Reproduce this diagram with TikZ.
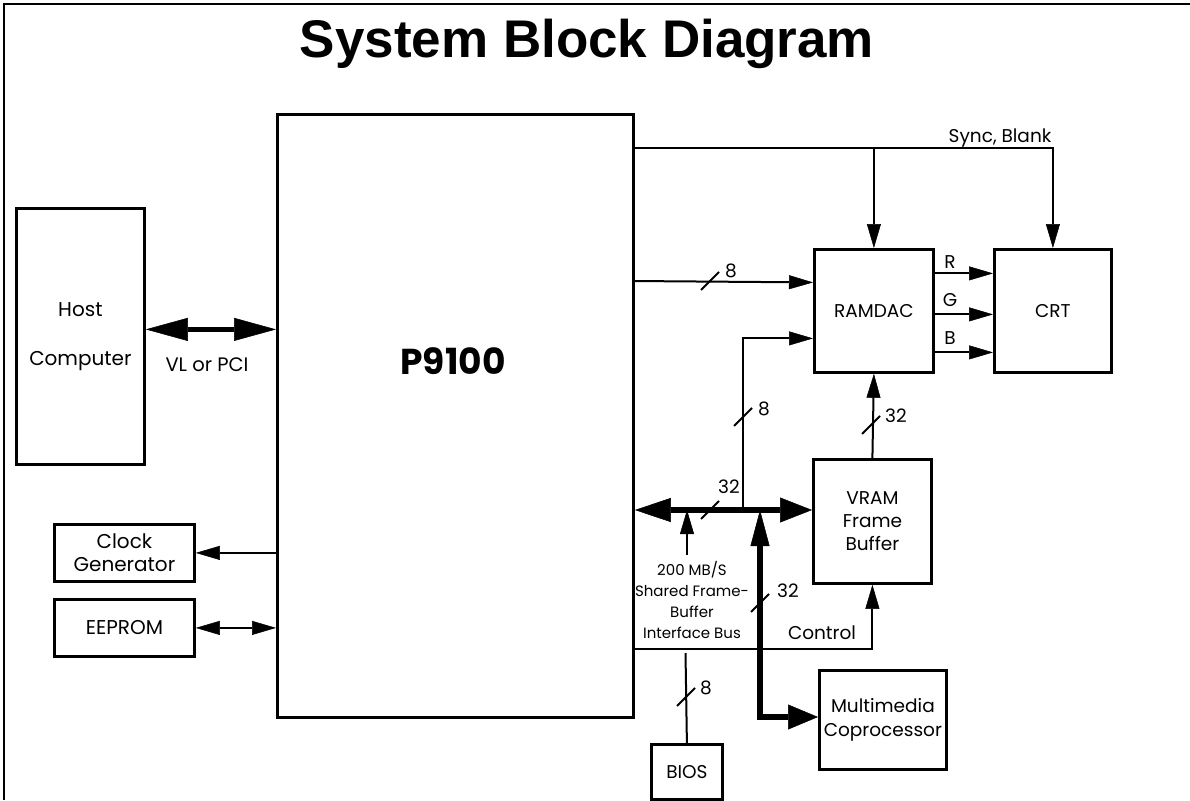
\documentclass[tikz,border=0pt]{standalone}
\usepackage{fontspec}
\setmainfont{Poppins}
\newfontfamily\titlefont{Liberation Sans}
\usetikzlibrary{arrows.meta}
\begin{document}
\begin{tikzpicture}[x=1pt,y=-1pt,
  box/.style={draw, line width=2.8pt, inner sep=0pt, align=center, font=\fontsize{20}{23}\selectfont},
  wire/.style={line width=2pt},
  bus/.style={line width=6pt},
  arr/.style={-{Triangle[length=24pt,width=14pt,line width=0.5pt]}},
  darr/.style={{Triangle[length=24pt,width=14pt,line width=0.5pt]}-{Triangle[length=24pt,width=14pt,line width=0.5pt]}},
  dbus/.style={{Triangle[length=36pt,width=24pt,line width=0.5pt]}-{Triangle[length=32pt,width=25pt,line width=0.5pt]}},
  vbus/.style={{Triangle[length=36pt,width=19pt,line width=0.5pt]}-{Triangle[length=30pt,width=25pt,line width=0.5pt]}},
  lbl/.style={font=\fontsize{18.5}{22}\selectfont, inner sep=0pt},
]
\useasboundingbox (0,0) rectangle (1190,800);
\fill[white] (0,0) rectangle (1190,800);
% frame
\draw[line width=2.5pt] (4,800) -- (4,4) -- (1190,4);
% title
\node[font=\titlefont\bfseries\fontsize{53}{60}\selectfont, anchor=base, inner sep=0pt] (title) at (587,58) {System Block Diagram};

% boxes
\node[box, anchor=north west, minimum width=128pt, minimum height=256pt] (host) at (15,207) {Host\\[26pt]Computer};
\node[box, anchor=north west, minimum width=140pt, minimum height=57pt] (clock) at (53,523) {Clock\\Generator};
\node[box, anchor=north west, minimum width=140pt, minimum height=57pt] (eeprom) at (53,598) {EEPROM};
\node[box, anchor=north west, minimum width=356pt, minimum height=603pt] (p9100) at (276,113) {};
\node[font=\bfseries\fontsize{36}{40}\selectfont, inner sep=0pt] (p9100lbl) at (453,361) {P9100};
\node[box, anchor=north west, minimum width=119pt, minimum height=123pt, font=\fontsize{18.5}{22}\selectfont] (ramdac) at (813,248) {RAMDAC};
\node[box, anchor=north west, minimum width=117pt, minimum height=123pt, font=\fontsize{18.5}{22}\selectfont] (crt) at (993,248) {CRT};
\node[box, anchor=north west, minimum width=118pt, minimum height=124pt, font=\fontsize{18.5}{23}\selectfont] (vram) at (812,458) {VRAM\\Frame\\Buffer};
\node[box, anchor=north west, minimum width=127pt, minimum height=99pt, font=\fontsize{18.5}{24}\selectfont] (mm) at (818,669) {Multimedia\\Coprocessor};
\node[box, anchor=north west, minimum width=71pt, minimum height=55pt, font=\fontsize{18.5}{22}\selectfont] (bios) at (650,743) {BIOS};

% Host <-> P9100
\draw[line width=5pt, {Triangle[length=42pt,width=23pt,line width=0.5pt]}-{Triangle[length=42pt,width=23pt,line width=0.5pt]}]
  ([yshift=7pt]host.east) -- ([yshift=7pt]host.east -| p9100.west);
\node[font=\fontsize{19.5}{23}\selectfont, inner sep=0pt] (vl) at (207,365) {VL or PCI};

% clock, eeprom
\draw[wire, arr] (clock.east -| p9100.west) -- (clock.east);
\draw[wire, darr] (eeprom.east) -- (eeprom.east -| p9100.west);

% Sync, Blank
\coordinate (s0) at (632,148);
\draw[wire, arr] (s0) -| (crt.north);
\draw[wire, arr] (ramdac.north |- s0) -- (ramdac.north);
\node[lbl, anchor=base] (synclbl) at (1000,142) {Sync, Blank};

% 8-bit to RAMDAC
\coordinate (e8) at (632,281);
\draw[wire, arr] (e8) -- ([yshift=28.5pt]ramdac.west);
\draw[wire] (701,290) -- (719,272);
\node[lbl] (l8a) at (731,271) {8};

% RGB
\draw[wire, arr] ([yshift=37.5pt]ramdac.east) -- ([yshift=37.5pt]crt.west);
\draw[wire, arr] ([yshift=-3.5pt]ramdac.east) -- ([yshift=-3.5pt]crt.west);
\draw[wire, arr] ([yshift=-41.5pt]ramdac.east) -- ([yshift=-41.5pt]crt.west);
\node[lbl] (lr) at (950,262) {R};
\node[lbl] (lg) at (950,300) {G};
\node[lbl] (lb) at (950,338) {B};

% shared bus
\coordinate (j8) at (743,510);
\coordinate (j32) at (760,510);
\coordinate (k32) at (760,717);
\draw[wire, arr] (j8) |- ([yshift=-27.5pt]ramdac.west);
\draw[wire] (734,426) -- (752,408);
\node[lbl] (l8b) at (764,409) {8};
\draw[bus, dbus] (p9100.east |- j8) -- (vram.west |- j8);
\draw[wire] (701,519) -- (719,501);
\node[lbl] (l32a) at (729,487) {32};

% VRAM -> RAMDAC
\draw[wire, arr] (vram.north) -- (ramdac.south);
\draw[wire] (862,434) -- (880,416);
\node[lbl] (l32b) at (896,416) {32};

% bus note
\node[font=\fontsize{15}{21}\selectfont, align=center, inner sep=0pt] (busnote) at (692,600) {200 MB/S\\Shared Frame-\\Buffer\\Interface Bus};
\draw[wire, arr] ([xshift=-5pt,yshift=6pt]busnote.north) -- ([xshift=-5pt]busnote.north |- j8);

% thick vertical to multimedia
\draw[bus, vbus] (j32) -- (k32) -- (k32 -| mm.west);
\draw[wire] (751,612) -- (769,594);
\node[lbl] (l32c) at (788,591) {32};

% control
\coordinate (c0) at (632,649);
\draw[wire, arr] (c0) -| (vram.south);
\node[lbl] (ctl) at (822,633) {Control};

% BIOS
\coordinate (b0) at (685.5,653);
\draw[wire] (b0) -- (bios.north);
\draw[wire] (677,706) -- (695,688);
\node[lbl] (l8c) at (706,688) {8};
\end{tikzpicture}
\end{document}
